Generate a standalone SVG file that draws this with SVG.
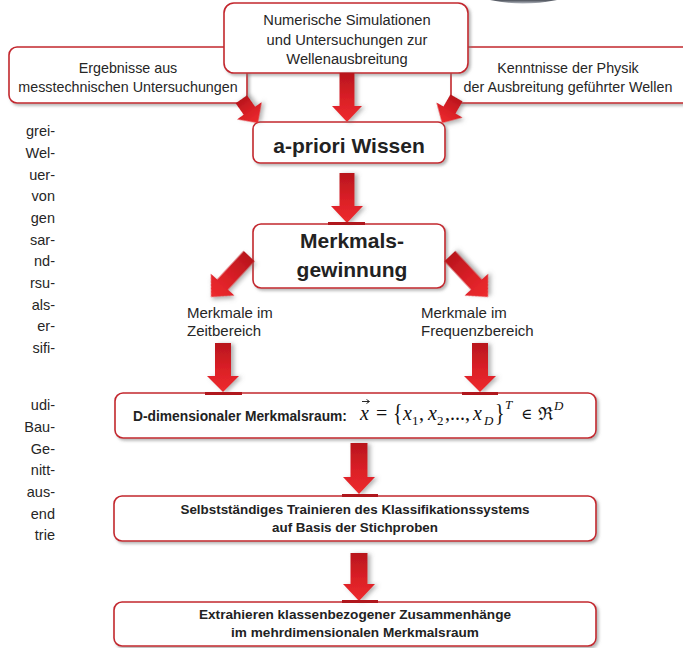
<svg xmlns="http://www.w3.org/2000/svg" width="683" height="648" viewBox="0 0 683 648">
<defs>
  <linearGradient id="arrowGrad" x1="0" y1="0" x2="0" y2="1">
    <stop offset="0" stop-color="#b8161d"/>
    <stop offset="0.5" stop-color="#d91f26"/>
    <stop offset="1" stop-color="#ee2b2e"/>
  </linearGradient>
  <linearGradient id="capGrad" x1="0" y1="0" x2="0" y2="1">
    <stop offset="0" stop-color="#4a4f58"/>
    <stop offset="1" stop-color="#b4b8c0"/>
  </linearGradient>
  <filter id="shadow" x="-20%" y="-20%" width="140%" height="160%">
    <feDropShadow dx="2" dy="2" stdDeviation="1.5" flood-color="#777" flood-opacity="0.55"/>
  </filter>
  <filter id="ashadow" x="-50%" y="-50%" width="200%" height="200%">
    <feDropShadow dx="3" dy="1" stdDeviation="2" flood-color="#666" flood-opacity="0.5"/>
  </filter>
</defs>
<style>
  .box { fill: #ffffff; stroke: #c3272e; stroke-width: 1.6; filter: url(#shadow); }
  .arrow { fill: url(#arrowGrad); filter: url(#ashadow); }
  .bar { fill: #b0171d; }
  .reg { font-family: "Liberation Sans", Arial, sans-serif; font-size: 14.3px; fill: #262626; }
  .top { font-family: "Liberation Sans", Arial, sans-serif; font-size: 14.7px; fill: #262626; }
  .lbl { font-family: "Liberation Sans", Arial, sans-serif; font-size: 15px; fill: #262626; }
  .bold { font-family: "Liberation Sans", Arial, sans-serif; font-weight: bold; fill: #222222; }
  .side { font-family: "Liberation Sans", Arial, sans-serif; font-size: 14.5px; fill: #262626; text-anchor: end; }
  .math { font-family: "Liberation Serif", "Times New Roman", "DejaVu Serif", serif; font-size: 20px; fill: #111111; }
  .mi { font-style: italic; }
  .c { text-anchor: middle; }
</style>

<!-- decorative cut-off shape at top right -->
<path d="M490,0 Q522,7 557,0 Z" fill="url(#capGrad)"/>

<!-- cut-off text on the left margin -->
<g id="margin-text">
  <text class="side" x="55" y="136">grei-</text>
  <text class="side" x="55" y="158">Wel-</text>
  <text class="side" x="55" y="180">uer-</text>
  <text class="side" x="55" y="201">von</text>
  <text class="side" x="55" y="223">gen</text>
  <text class="side" x="55" y="245">sar-</text>
  <text class="side" x="55" y="266">nd-</text>
  <text class="side" x="55" y="288">rsu-</text>
  <text class="side" x="55" y="310">als-</text>
  <text class="side" x="55" y="331">er-</text>
  <text class="side" x="55" y="353">sifi-</text>
  <text class="side" x="55" y="410">udi-</text>
  <text class="side" x="55" y="432">Bau-</text>
  <text class="side" x="55" y="454">Ge-</text>
  <text class="side" x="55" y="475">nitt-</text>
  <text class="side" x="55" y="497">aus-</text>
  <text class="side" x="55" y="519">end</text>
  <text class="side" x="55" y="540">trie</text>
</g>

<g id="node-messtechnik">
  <rect class="box" x="9" y="47" width="238" height="56" rx="8"/>
  <text class="reg c" x="128" y="73">Ergebnisse aus</text>
  <text class="reg c" x="128" y="92">messtechnischen Untersuchungen</text>
</g>

<g id="node-physik">
  <rect class="box" x="451" y="47" width="245" height="56" rx="8"/>
  <text class="reg c" x="568" y="73">Kenntnisse der Physik</text>
  <text class="reg c" x="568" y="92">der Ausbreitung geführter Wellen</text>
</g>

<g id="node-simulation">
  <rect class="box" x="224" y="3" width="244" height="70" rx="10"/>
  <text class="top c" x="347" y="25">Numerische Simulationen</text>
  <text class="top c" x="347" y="45">und Untersuchungen zur</text>
  <text class="top c" x="347" y="64">Wellenausbreitung</text>
</g>

<g id="node-apriori">
  <rect class="box" x="253" y="122" width="192" height="41" rx="7"/>
  <text class="bold c" x="349" y="153" font-size="21">a-priori Wissen</text>
</g>

<g id="node-merkmalsgewinnung">
  <rect class="box" x="253" y="224" width="192" height="64" rx="8"/>
  <text class="bold c" x="352" y="248" font-size="21">Merkmals-</text>
  <text class="bold c" x="352" y="277" font-size="21">gewinnung</text>
</g>

<g id="label-zeit">
  <text class="lbl" x="187" y="318">Merkmale im</text>
  <text class="lbl" x="187" y="336">Zeitbereich</text>
</g>

<g id="label-frequenz">
  <text class="lbl" x="421" y="318">Merkmale im</text>
  <text class="lbl" x="421" y="336">Frequenzbereich</text>
</g>

<g id="node-merkmalsraum">
  <rect class="box" x="115" y="393" width="481" height="45" rx="8"/>
  <text class="bold" x="133" y="421" font-size="13.8">D-dimensionaler Merkmalsraum:</text>
  <path d="M362,401.5 H369 M366.5,399.5 L369.5,401.5 L366.5,403.5" fill="none" stroke="#111" stroke-width="0.9"/>
  <g class="math">
    <text class="mi" x="360" y="420">x</text>
    <text x="376" y="420">=</text>
    <text x="393" y="421" font-size="25" transform="translate(393 421) scale(0.8 1) translate(-393 -421)">{</text>
    <text class="mi" x="403" y="420">x</text>
    <text x="412" y="425" font-size="13">1</text>
    <text x="419" y="420">,</text>
    <text class="mi" x="428" y="420">x</text>
    <text x="437" y="425" font-size="13">2</text>
    <text x="445" y="420">,...,</text>
    <text class="mi" x="473" y="420">x</text>
    <text class="mi" x="484" y="425" font-size="13">D</text>
    <text x="495" y="421" font-size="25" transform="translate(495 421) scale(0.8 1) translate(-495 -421)">}</text>
    <text class="mi" x="505" y="409" font-size="13">T</text>
    <text x="521" y="419" font-size="15">∈</text>
    <text x="538" y="420" font-size="18">ℜ</text>
    <text class="mi" x="554" y="410" font-size="13">D</text>
  </g>
</g>

<g id="node-training">
  <rect class="box" x="114" y="496" width="482" height="45" rx="8"/>
  <text class="bold c" x="355" y="514" font-size="13.4">Selbstständiges Trainieren des Klassifikationssystems</text>
  <text class="bold c" x="355" y="532" font-size="13.4">auf Basis der Stichproben</text>
</g>

<g id="node-extraktion">
  <rect class="box" x="114" y="602" width="482" height="44" rx="8"/>
  <text class="bold c" x="355" y="619" font-size="13.6">Extrahieren klassenbezogener Zusammenhänge</text>
  <text class="bold c" x="355" y="637" font-size="13.6">im mehrdimensionalen Merkmalsraum</text>
</g>

<g id="connectors">
  <!-- into a-priori -->
  <path class="arrow" transform="translate(258 123) rotate(-35)" d="M-7,-29 H7 V-15 H15 L0,0 L-15,-15 H-7 Z"/>
  <path class="arrow" transform="translate(347 122) rotate(0)" d="M-7.5,-49 H7.5 V-16 H15 L0,0 L-15,-16 H-7.5 Z"/>
  <path class="arrow" transform="translate(442 123) rotate(30)" d="M-7,-29 H7 V-15 H15 L0,0 L-15,-15 H-7 Z"/>
  <!-- a-priori to Merkmalsgewinnung -->
  <path class="arrow" transform="translate(347 223)" d="M-7.5,-50 H7.5 V-17 H16 L0,0 L-16,-17 H-7.5 Z"/>
  <rect class="bar" x="328" y="222" width="37" height="3"/>
  <!-- Merkmalsgewinnung to the two feature labels -->
  <path class="arrow" transform="translate(211 297) rotate(43)" d="M-7.5,-56 H7.5 V-17 H16 L0,0 L-16,-17 H-7.5 Z"/>
  <path class="arrow" transform="translate(488 297) rotate(-43)" d="M-7.5,-56 H7.5 V-17 H16 L0,0 L-16,-17 H-7.5 Z"/>
  <!-- labels to Merkmalsraum -->
  <path class="arrow" transform="translate(223 392)" d="M-8,-49 H8 V-16 H16 L0,0 L-16,-16 H-8 Z"/>
  <path class="arrow" transform="translate(480 392)" d="M-8,-49 H8 V-16 H16 L0,0 L-16,-16 H-8 Z"/>
  <rect class="bar" x="205" y="392" width="37" height="3"/>
  <rect class="bar" x="462" y="392" width="36" height="3"/>
  <!-- Merkmalsraum to training -->
  <path class="arrow" transform="translate(359 494)" d="M-8.5,-51 H8.5 V-17 H16 L0,0 L-16,-17 H-8.5 Z"/>
  <rect class="bar" x="342" y="494" width="36" height="3"/>
  <!-- training to extraction -->
  <path class="arrow" transform="translate(359 601)" d="M-8.5,-48 H8.5 V-17 H16 L0,0 L-16,-17 H-8.5 Z"/>
  <rect class="bar" x="342" y="600" width="36" height="3"/>
</g>
</svg>
